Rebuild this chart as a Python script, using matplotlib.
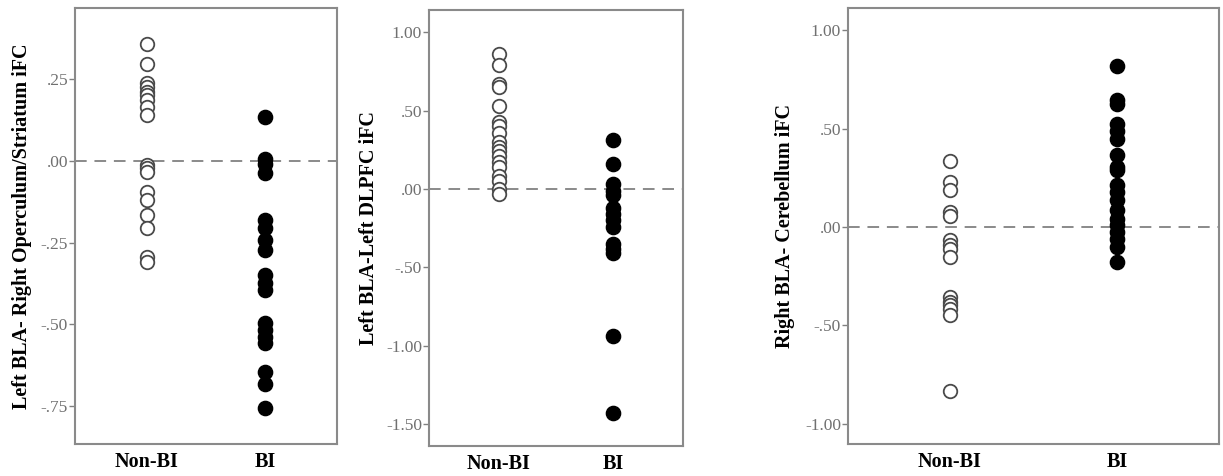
import matplotlib
matplotlib.use("Agg")
import matplotlib.pyplot as plt

plt.rcParams['font.family'] = ['Liberation Serif', 'DejaVu Serif']

groups = ["Non-BI", "BI"]

# panel 1: Left BLA - Right Operculum/Striatum
p1_nonbi = [0.357, 0.296, 0.238, 0.225, 0.212, 0.202, 0.187, 0.166, 0.141,
            -0.012, -0.022, -0.033, -0.094, -0.119, -0.165, -0.206, -0.293, -0.308]
p1_bi = [0.133, 0.005, -0.009, -0.036, -0.181, -0.206, -0.242, -0.272, -0.349,
         -0.374, -0.395, -0.497, -0.517, -0.538, -0.558, -0.645, -0.681, -0.757]

# panel 2: Left BLA - Left DLPFC
p2_nonbi = [0.86, 0.79, 0.67, 0.65, 0.53, 0.43, 0.40, 0.36, 0.30, 0.27, 0.24,
            0.21, 0.17, 0.14, 0.08, 0.05, 0.00, -0.03]
p2_bi = [0.31, 0.16, 0.03, -0.01, -0.04, -0.12, -0.16, -0.20, -0.24, -0.35,
         -0.38, -0.41, -0.94, -1.43]

# panel 3: Right BLA - Cerebellum
p3_nonbi = [0.336, 0.229, 0.19, 0.076, 0.054, -0.068, -0.093, -0.11, -0.153,
            -0.356, -0.381, -0.398, -0.415, -0.449, -0.834]
p3_bi = [0.819, 0.644, 0.627, 0.525, 0.49, 0.449, 0.364, 0.305, 0.288, 0.212,
         0.178, 0.136, 0.085, 0.042, 0.008, -0.025, -0.059, -0.102, -0.178]

panels = [
    dict(nonbi=p1_nonbi, bi=p1_bi, ylabel="Left BLA- Right Operculum/Striatum iFC",
         ticks=[0.25, 0.0, -0.25, -0.5, -0.75], labels=[".25", ".00", "-.25", "-.50", "-.75"],
         ylim=(-0.866, 0.468), rect=[0.0613, 0.0672, 0.2143, 0.916], labx=-0.165),
    dict(nonbi=p2_nonbi, bi=p2_bi, ylabel="Left BLA-Left DLPFC iFC",
         ticks=[1.0, 0.5, 0.0, -0.5, -1.0, -1.5], labels=["1.00", ".50", ".00", "-.50", "-1.00", "-1.50"],
         ylim=(-1.641, 1.143), rect=[0.3508, 0.063, 0.2077, 0.916], labx=-0.195),
    dict(nonbi=p3_nonbi, bi=p3_bi, ylabel="Right BLA- Cerebellum iFC",
         ticks=[1.0, 0.5, 0.0, -0.5, -1.0], labels=["1.00", ".50", ".00", "-.50", "-1.00"],
         ylim=(-1.104, 1.114), rect=[0.6934, 0.0672, 0.3033, 0.916], labx=-0.143),
]

fig = plt.figure(figsize=(12.23, 4.76), dpi=100)

for p in panels:
    ax = fig.add_axes(p["rect"])
    ax.scatter([1] * len(p["nonbi"]), p["nonbi"], s=95, facecolors="white",
               edgecolors="#4a4a4a", linewidths=1.3, zorder=3)
    ax.scatter([2] * len(p["bi"]), p["bi"], s=105, color="black", zorder=3)
    ax.axhline(0, color="#8a8a8a", linestyle=(0, (6, 4)), linewidth=1.4, zorder=1)
    ax.set_xlim(0.39, 2.61)
    ax.set_ylim(*p["ylim"])
    ax.set_xticks([1, 2])
    ax.set_xticklabels(groups, fontsize=14.5, fontweight="bold")
    ax.set_yticks(p["ticks"])
    ax.set_yticklabels(p["labels"], fontsize=12.5, color="#707070")
    ax.tick_params(axis="x", length=0, pad=6)
    ax.tick_params(axis="y", length=4, width=1, color="#808080", pad=1)
    ax.set_ylabel(p["ylabel"], fontsize=14.5, fontweight="bold")
    ax.yaxis.set_label_coords(p["labx"], 0.5)
    for sp in ax.spines.values():
        sp.set_color("#8a8a8a")
        sp.set_linewidth(1.5)

fig.savefig("out.png", dpi=100)
